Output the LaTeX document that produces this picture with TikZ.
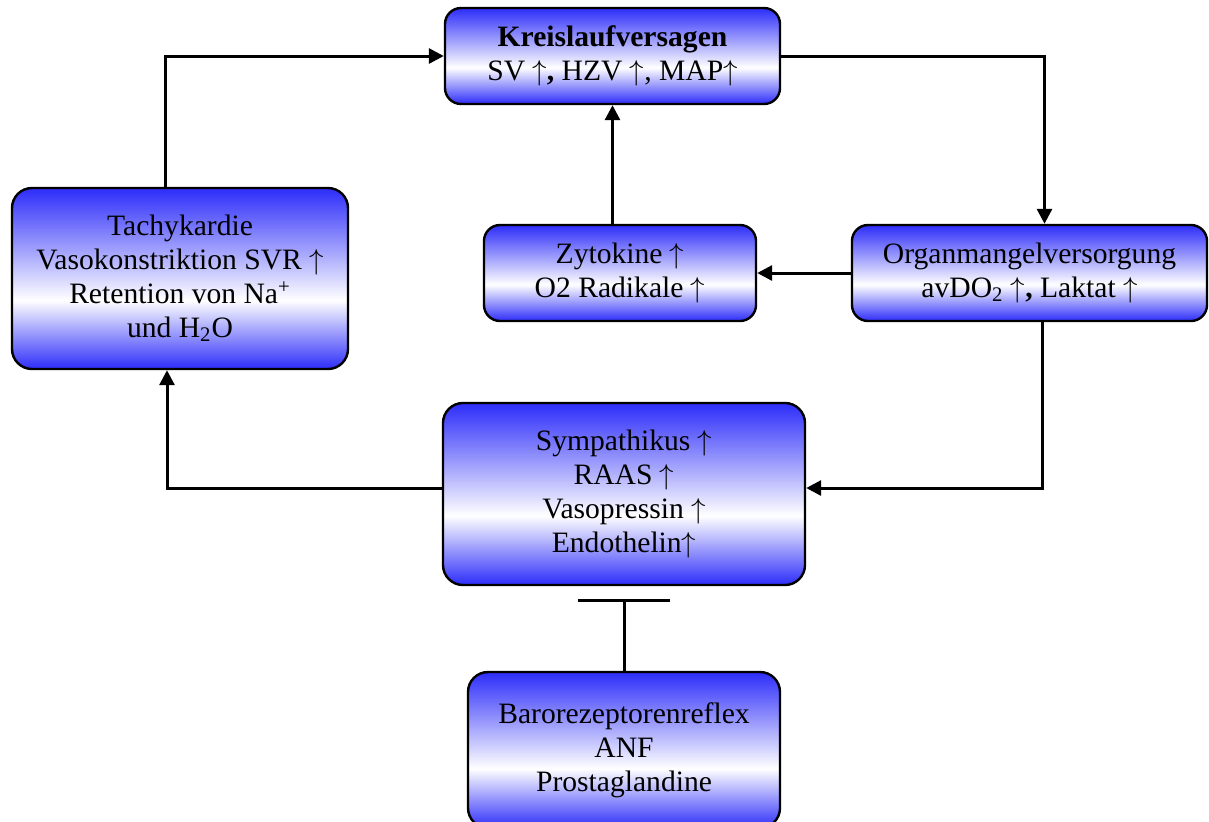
\documentclass[tikz,border=0pt]{standalone}
\usepackage{fontspec}
\setmainfont{Liberation Serif}
\usetikzlibrary{arrows.meta}
\definecolor{myblue}{RGB}{45,45,250}
\newcommand{\myup}{\ensuremath{\uparrow}}
\pgfdeclareverticalshading{bwb}{100bp}{color(0bp)=(myblue); color(25bp)=(myblue); color(44bp)=(white); color(75bp)=(myblue); color(100bp)=(myblue)}
\tikzset{
  box/.style={draw=black, line width=1.2pt, rounded corners=8pt, shading=bwb, align=center,
    font=\fontsize{14.8pt}{17pt}\selectfont, inner sep=2pt},
  arr/.style={line width=1.5pt, -{Triangle[length=7.5pt,width=7.5pt]}},
  inh/.style={line width=1.5pt, -{Bar[width=46pt]}}
}
\begin{document}
\begin{tikzpicture}[x=0.5pt,y=-0.5pt]
\useasboundingbox (0,0) rectangle (1209,821);
\node[box, minimum width=167.5pt, minimum height=48pt] (kreis) at (612.5,56)
  {\textbf{Kreislaufversagen}\\SV \myup\textbf{,} HZV \myup, MAP\myup};
\node[box, rounded corners=10pt, minimum width=168pt, minimum height=90.5pt] (tachy) at (180,278.5)
  {Tachykardie\\Vasokonstriktion SVR \myup\\Retention von Na\textsuperscript{+}\\und H\textsubscript{2}O};
\node[box, minimum width=136pt, minimum height=48pt] (zyto) at (620,273)
  {Zytokine \myup\\O2 Radikale \myup};
\node[box, minimum width=177.5pt, minimum height=48pt] (organ) at (1029.5,273)
  {Organmangelversorgung\\avDO\textsubscript{2} \myup\textbf{,} Laktat \myup};
\node[box, rounded corners=10pt, minimum width=181pt, minimum height=91pt] (symp) at (624,494)
  {Sympathikus \myup\\RAAS \myup\\Vasopressin \myup\\Endothelin\myup};
\node[box, rounded corners=10pt, minimum width=156pt, minimum height=78pt] (baro) at (624,750)
  {Barorezeptorenreflex\\ANF\\Prostaglandine};
\coordinate (inhend) at (624,599);
\draw[arr] ([xshift=-7.5pt]tachy.north) |- (kreis.west);
\draw[arr] (kreis.east) -| ([xshift=7.5pt]organ.north);
\draw[arr] (organ.west) -- (zyto.east);
\draw[arr] (zyto.north -| kreis.south) -- (kreis.south);
\draw[arr] ([xshift=6.5pt]organ.south) |- ([yshift=3pt]symp.east);
\draw[arr] ([yshift=3pt]symp.west) -| ([xshift=-6.5pt]tachy.south);
\draw[inh] (baro.north) -- (inhend);
\end{tikzpicture}
\end{document}
